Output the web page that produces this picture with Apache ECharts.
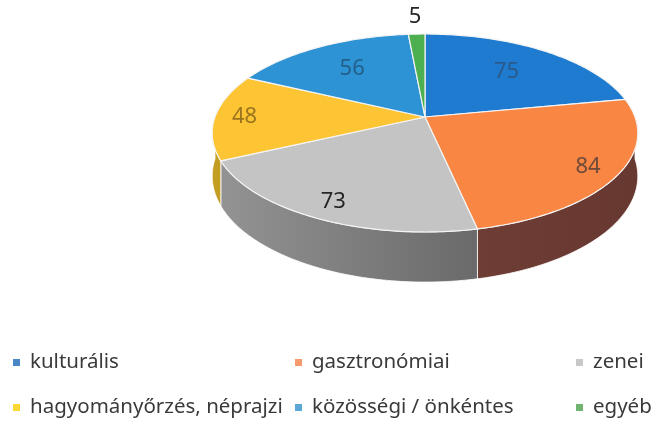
<!DOCTYPE html>
<html><head><meta charset="utf-8">
<script src="https://cdn.jsdelivr.net/npm/echarts@6/dist/echarts.min.js"></script>
<style>html,body{margin:0;padding:0;background:#fff}#c{width:653px;height:421px}</style>
</head><body><div id="c"></div>
<script>
// ---- data ----
const categories = ['kulturális', 'gasztronómiai', 'zenei', 'hagyományőrzés, néprajzi', 'közösségi / önkéntes', 'egyéb'];
const values = [75, 84, 73, 48, 56, 5];

// ---- styles ----
const topColors = ['#1f7bcf', '#fa8643', '#c4c4c4', '#fdc533', '#2e93d5', '#4caf50'];
const sideColorsA = ['#164f85', '#673830', '#939393', '#c49e22', '#1f6aa0', '#2f7a33'];
const sideColorsB = ['#164f85', '#6e3e35', '#6a6a6a', '#c49e22', '#1f6aa0', '#2f7a33'];
const labelColors = ['#2a5a8c', '#6d4a3a', '#262626', '#9b7420', '#22608a', '#262626'];
const legendColors = ['#4a86c5', '#f49a6c', '#c8c8c8', '#fdd835', '#5aa7d8', '#6fb46f'];
const GEO = { cx: 425, cy: 117, rx: 210, ry: 96.4, persp: -0.1616, depth: 42 };
const FONT = '"Noto Sans", "DejaVu Sans", sans-serif';

const total = values.reduce((a, b) => a + b, 0);
function proj(theta, r, drop) {
  const u = r * Math.sin(theta), v = -r * Math.cos(theta);
  const k = 1 + GEO.persp * v;
  return [GEO.cx + GEO.rx * u / k, GEO.cy + GEO.ry * v / k + (drop || 0) / k];
}
function arc(a0, a1, r, drop) {
  const pts = [];
  const n = Math.max(2, Math.ceil((a1 - a0) / (Math.PI / 180)));
  for (let i = 0; i <= n; i++) pts.push(proj(a0 + (a1 - a0) * i / n, r, drop));
  return pts;
}

function renderSlice(params, api) {
  const idx = params.seriesIndex;
  const val = api.value(0);
  let before = 0;
  for (let i = 0; i < idx; i++) before += values[i];
  const a0 = before / total * 2 * Math.PI;
  const a1 = (before + val) / total * 2 * Math.PI;
  const children = [];
  // front side wall (visible where v > 0 : theta in (pi/2, 3pi/2))
  const s0 = Math.max(a0, Math.PI / 2), s1 = Math.min(a1, 3 * Math.PI / 2);
  if (s1 > s0) {
    const topArc = arc(s0, s1, 1, 0);
    const botArc = arc(s0, s1, 1, GEO.depth).reverse();
    const xs = topArc.map(p => p[0]);
    const x0 = Math.min.apply(null, xs);
    children.push({
      type: 'polygon', z2: 1,
      shape: { points: topArc.concat(botArc) },
      style: {
        fill: new echarts.graphic.LinearGradient(0, 0, 1, 0, [
          { offset: 0, color: x0 < GEO.cx ? sideColorsA[idx] : sideColorsB[idx] },
          { offset: 1, color: x0 < GEO.cx ? sideColorsB[idx] : sideColorsA[idx] }
        ]),
        stroke: '#ffffff', lineWidth: 0.8
      }
    });
  }
  // top face
  const pts = [proj(0, 0, 0)].concat(arc(a0, a1, 1, 0));
  children.push({
    type: 'polygon', z2: 2,
    shape: { points: pts },
    style: { fill: topColors[idx], stroke: '#f4f4f4', lineWidth: 1.2, lineJoin: 'round' }
  });
  // label
  const mid = (a0 + a1) / 2;
  const share = val / total;
  let lr = -Math.cos(mid) < -0.3 ? 0.66 : 0.86;
  if (share < 0.03) lr = 1.25;
  const lp = proj(mid, lr, 0);
  children.push({
    type: 'text', z2: 3,
    style: {
      text: String(val), x: lp[0], y: lp[1],
      textAlign: 'center', textVerticalAlign: 'middle',
      fill: labelColors[idx], font: '22px ' + FONT
    }
  });
  return { type: 'group', children: children };
}

const colX = [13, 295, 576];
const rowY = [352, 397];
const chart = echarts.init(document.getElementById('c'), null, { renderer: 'canvas' });
chart.setOption({
  backgroundColor: '#ffffff',
  animation: false,
  legend: categories.map((name, i) => ({
    data: [name],
    left: colX[i % 3], top: rowY[Math.floor(i / 3)],
    padding: 0, icon: 'rect', itemWidth: 7, itemHeight: 7,
    selectedMode: false,
    textStyle: { fontSize: 20.5, color: '#3a3a3a', fontFamily: FONT, padding: [0, 0, 0, 5] }
  })),
  series: categories.map((name, i) => ({
    type: 'custom', name: name,
    coordinateSystem: 'none',
    itemStyle: { color: legendColors[i] },
    renderItem: renderSlice,
    data: [[values[i]]],
    silent: true
  }))
});
</script>
</body></html>
